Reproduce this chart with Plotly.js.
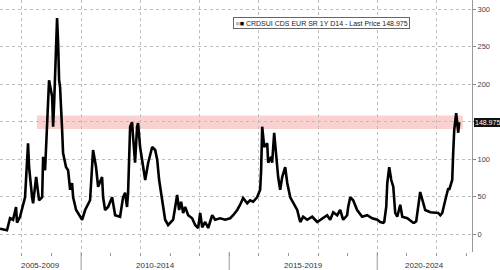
<!DOCTYPE html>
<html>
<head>
<meta charset="utf-8">
<script src="https://cdn.plot.ly/plotly-3.0.1.min.js"></script>
<style>
html,body{margin:0;padding:0;background:#fff;}
#chart{width:500px;height:270px;}
</style>
</head>
<body>
<div id="chart"></div>
<script>
// ---- data ----
const seriesName = "CRDSUI CDS EUR SR 1Y D14 - Last Price 148.975";
const lastPrice = 148.975;
const dates = [
"2007-04-06","2007-07-01","2007-08-08","2007-09-14","2007-10-21","2007-11-02","2007-12-09",
"2008-01-15","2008-02-09","2008-03-17","2008-03-30","2008-05-06","2008-05-18","2008-06-25",
"2008-07-07","2008-07-31","2008-09-07","2008-09-19","2008-10-13","2008-10-26","2008-11-07",
"2008-12-01","2009-01-08","2009-01-20","2009-02-02","2009-02-26","2009-03-10","2009-03-23",
"2009-04-04","2009-04-16","2009-04-28","2009-05-11","2009-05-23","2009-06-29","2009-07-24",
"2009-08-18","2009-09-11","2009-09-24","2009-10-31","2009-11-24","2009-12-19","2010-01-13",
"2010-02-19","2010-04-21","2010-05-28","2010-07-04","2010-07-29","2010-09-16","2010-09-29",
"2010-10-23","2010-11-29","2011-01-18","2011-02-24","2011-04-26","2011-06-02","2011-06-27",
"2011-07-21","2011-08-03","2011-08-28","2011-09-21","2011-10-04","2011-10-28","2011-11-22",
"2011-12-04","2011-12-29","2012-02-04","2012-03-01","2012-04-07","2012-05-26","2012-07-02",
"2012-07-27","2012-08-20","2012-09-26","2012-11-02","2012-12-09","2013-02-09","2013-03-30",
"2013-04-23","2013-05-18","2013-06-12","2013-07-07","2013-08-13","2013-10-01","2013-11-07",
"2013-12-14","2014-01-08","2014-02-02","2014-03-11","2014-04-17","2014-06-05","2014-07-12",
"2014-09-11","2014-11-12","2015-01-13","2015-02-19","2015-04-10","2015-05-16","2015-06-22",
"2015-08-11","2015-09-16","2015-10-23","2015-12-11","2016-01-18","2016-01-30","2016-02-12",
"2016-03-08","2016-04-14","2016-04-26","2016-06-02","2016-06-14","2016-07-09","2016-08-03",
"2016-08-27","2016-09-21","2016-10-16","2016-11-22","2016-12-17","2017-01-23","2017-03-01",
"2017-04-19","2017-05-26","2017-07-01","2017-08-20","2017-10-21","2017-12-22","2018-01-28",
"2018-02-22","2018-04-23","2018-05-31","2018-07-07","2018-08-25","2018-10-01","2018-11-07",
"2018-12-26","2019-01-08","2019-02-02","2019-03-10","2019-04-28","2019-06-29","2019-08-30",
"2019-10-31","2020-01-01","2020-02-07","2020-03-15","2020-03-27","2020-04-21","2020-05-04",
"2020-05-28","2020-06-22","2020-07-17","2020-08-10","2020-09-04","2020-10-11","2020-11-05",
"2021-01-06","2021-03-08","2021-03-20","2021-04-01","2021-04-26","2021-06-14","2021-08-15",
"2021-10-16","2021-12-17","2022-01-23","2022-02-17","2022-03-13","2022-04-19","2022-05-26",
"2022-06-07","2022-07-01","2022-07-14","2022-07-26","2022-08-08","2022-09-01","2022-09-14",
"2022-09-26","2022-10-08"
];
const values = [
7,5,21,19,36,15,23,
41,49,121,89,49,41,76,
63,45,49,103,85,112,143,
205,183,143,175,255,288,255,
205,196,175,139,108,89,85,
59,68,49,32,28,25,19,
32,45,112,89,63,76,49,
32,36,49,25,23,49,55,
36,55,143,149,129,95,143,
148,116,89,72,95,116,112,
99,72,45,19,12,19,52,
32,43,28,36,25,21,12,
8,28,9,16,8,25,19,
21,19,21,25,32,39,48,
41,45,43,49,59,85,143,
116,121,95,103,95,135,99,
76,59,76,89,68,49,41,
32,16,23,19,23,16,19,
21,25,19,29,25,32,19,
25,36,49,45,32,23,25,
21,19,16,15,16,36,68,
89,72,63,28,23,39,23,
21,15,15,15,17,56,32,
29,28,28,25,28,45,61,
59,69,72,108,139,161,148,
135,149,129,145,149
];
const yTicks = [0,50,100,150,200,250,300];
const yTickLabels = ["0","50","100","","200","250","300"];
const periodLabels = ["2005-2009","2010-2014","2015-2019","2020-2024"];
const periodCenters = ["2008-08-20","2012-07-02","2017-07-02","2021-08-01"];
const periodBreaks = ["2010-01-01","2015-01-01","2020-01-01"];
const bandLow = 140, bandHigh = 158;
const bandStart = "2008-07-05", bandEnd = "2022-11-20";
const xRange = ["2007-04-06","2023-03-15"];
const yRange = [-24, 312];

// ---- chart ----
const trace = {
  x: dates, y: values, type: "scatter", mode: "lines",
  name: seriesName, showlegend: false,
  line: {color: "#000", width: 2.6}
};

const shapes = [{
  type: "rect", xref: "x", yref: "y", layer: "below",
  x0: bandStart, x1: bandEnd, y0: bandLow, y1: bandHigh,
  fillcolor: "rgba(245,150,150,0.45)", line: {width: 0}
}];
periodBreaks.forEach(d => shapes.push({
  type: "line", xref: "x", yref: "paper", x0: d, x1: d, y0: 0, y1: -0.075,
  line: {color: "#999", width: 1}
}));

const annotations = periodLabels.map((t, i) => ({
  text: t, x: periodCenters[i], xref: "x", y: -0.055, yref: "paper",
  yanchor: "middle", showarrow: false,
  font: {family: "Liberation Sans, Arial, sans-serif", size: 8, color: "#333"}
}));
annotations.push({
  text: "<span style='color:#bbb'>■</span><span style='color:#000'>■</span> " + seriesName,
  x: 0.494, xref: "paper", y: 0.91, yref: "paper", xanchor: "left", yanchor: "middle",
  showarrow: false, bgcolor: "#fff", bordercolor: "#666", borderwidth: 1, borderpad: 1.5,
  font: {family: "Liberation Sans, Arial, sans-serif", size: 7, color: "#222"}
});
annotations.push({
  text: lastPrice.toFixed(3), x: 1, xref: "paper", y: lastPrice, yref: "y",
  xanchor: "left", yanchor: "middle", xshift: 2, showarrow: false,
  bgcolor: "#111", bordercolor: "#111", borderwidth: 1, borderpad: 0,
  font: {family: "Liberation Sans, Arial, sans-serif", size: 7, color: "#fff"}
});

const layout = {
  width: 500, height: 270,
  margin: {l: 0, r: 28, t: 0, b: 18, pad: 0},
  paper_bgcolor: "#fff", plot_bgcolor: "#fff",
  showlegend: false,
  xaxis: {
    type: "date", range: xRange,
    tick0: "2008-01-01", dtick: "M24",
    showticklabels: false, ticks: "outside", ticklen: 3, tickcolor: "#999",
    showgrid: true, gridcolor: "#bdbdbd", griddash: "dot", gridwidth: 1,
    minor: {dtick: "M12", tick0: "2008-01-01", ticks: "outside", ticklen: 3, tickcolor: "#999", showgrid: false},
    showline: false, zeroline: false, fixedrange: true
  },
  yaxis: {
    side: "right", range: yRange,
    tickmode: "array", tickvals: yTicks, ticktext: yTickLabels,
    ticks: "outside", ticklen: 3, tickcolor: "#888",
    showgrid: true, gridcolor: "#bdbdbd", griddash: "dot", gridwidth: 1,
    showline: true, linecolor: "#999", linewidth: 1,
    zeroline: false,
    tickfont: {family: "Liberation Sans, Arial, sans-serif", size: 7.5, color: "#444"},
    fixedrange: true
  },
  shapes: shapes,
  annotations: annotations
};

Plotly.newPlot("chart", [trace], layout, {displayModeBar: false, staticPlot: true});
</script>
</body>
</html>
